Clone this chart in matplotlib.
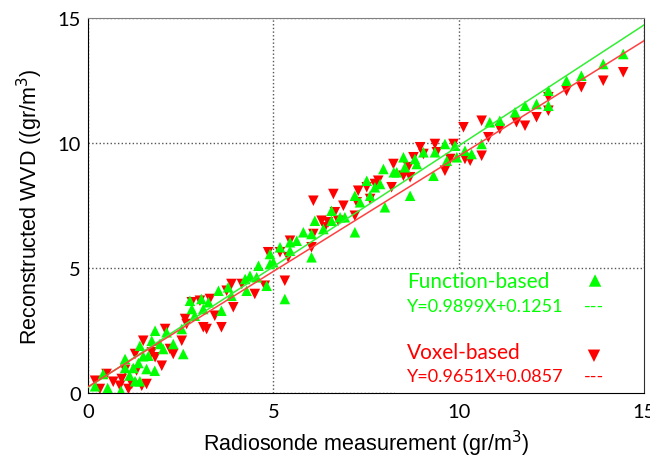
import matplotlib.pyplot as plt
from matplotlib.patches import Rectangle

# Function-based reconstruction (green, up-triangles)
func_x = [0.19, 0.41, 0.53, 0.89, 1.0, 1.0, 1.12, 1.27, 1.4, 1.22, 1.36, 1.49, 1.63, 1.58,
          1.8, 1.4, 1.72, 1.81, 1.94, 2.03, 2.12, 2.3, 2.57,
          2.53, 2.75, 2.8, 2.88, 3.06, 3.11, 3.25, 3.52, 3.6, 3.78, 3.87, 4.24, 4.37, 4.28,
          4.55, 4.6, 4.82, 5.31, 5.0,
          4.91, 4.91, 5.18, 5.45, 5.45, 5.63, 6.03, 6.03, 5.81, 6.12, 6.35, 6.57, 6.57, 6.8,
          6.93, 7.2, 7.2, 7.34, 7.74, 7.88,
          7.52, 7.61, 8.01, 7.97, 8.25, 8.33, 8.51, 8.55, 8.69, 8.82, 8.87, 9.05, 9.32, 9.36,
          9.68, 9.95, 10.35,
          9.63, 9.9, 10.17, 10.62, 10.84, 11.11, 11.52, 11.79,
          12.1, 12.42, 12.42, 12.91, 13.31, 13.9, 14.44]
func_y = [0.27, 0.76, 0.20, 0.09, 1.36, 1.0, 0.7, 0.47, 0.47, 1.0, 1.2, 1.47, 1.49, 0.96,
          0.89, 1.89, 2.09, 2.49, 1.96, 1.76, 2.43, 1.96, 1.56,
          2.56, 3.69, 3.36, 3.09, 3.76, 3.36, 3.63, 4.09, 3.29, 4.23, 3.89, 4.56, 4.69, 4.09,
          4.63, 5.09, 4.29, 3.76, 5.23,
          5.56, 5.16, 5.83, 6.03, 5.69, 6.09, 6.36, 5.43, 6.43, 6.89, 6.56, 7.29, 6.89, 7.03,
          7.03, 7.89, 6.43, 7.63, 8.23, 8.36,
          8.49, 7.89, 7.43, 8.96, 8.83, 8.83, 9.43, 9.03, 7.89, 9.36, 9.16, 9.63, 8.69, 9.63,
          9.29, 9.43, 9.56,
          9.96, 9.89, 9.69, 9.96, 10.83, 10.89, 11.23, 11.49,
          11.56, 12.09, 11.49, 12.49, 12.69, 13.16, 13.56]

# Voxel-based reconstruction (red, down-triangles)
vox_x = [0.19, 0.32, 0.5, 0.68, 0.86, 1.09, 1.18, 0.91, 1.0, 1.31, 1.45, 1.58, 1.27, 1.49,
         1.72, 1.81, 1.99, 2.21, 2.3, 2.08, 2.53,
         2.62, 2.66, 2.8, 3.02, 3.11, 3.2, 3.29, 3.42, 3.6, 3.74, 3.87, 3.92, 4.15, 4.5, 4.77,
         5.31,
         4.86, 5.18, 5.4, 5.45, 6.03, 6.08, 6.08, 6.3, 6.39, 6.48, 6.62, 6.66, 6.75, 6.89, 7.2,
         7.25,
         7.29, 7.52, 7.61, 7.74, 7.83, 8.19, 8.24, 8.51, 8.64, 8.69, 8.78, 8.96, 9.05, 9.36,
         9.41, 9.63, 9.77, 9.86, 10.13, 10.17, 10.31,
         10.62, 10.62, 10.8, 11.11, 11.56, 11.79, 12.1,
         12.42, 12.42, 12.91, 13.31, 13.9, 14.44]
vox_y = [0.49, 0.16, 0.76, 0.45, 0.29, 0.16, 0.36, 0.56, 0.93, 0.9, 0.29, 0.36, 1.56, 2.09,
         1.63, 1.43, 1.09, 1.76, 1.56, 2.56, 2.09,
         2.96, 2.76, 3.63, 3.69, 2.63, 2.56, 3.76, 3.09, 2.63, 4.09, 4.36, 3.43, 4.36, 3.96, 4.29,
         4.49,
         5.63, 5.63, 5.43, 6.09, 5.83, 6.36, 7.69, 6.89, 6.63, 6.83, 7.96, 7.23, 6.89, 7.49, 7.09,
         7.63,
         8.09, 8.23, 7.76, 8.36, 8.49, 8.23, 9.16, 8.69, 9.03, 8.63, 9.43, 9.83, 9.56, 9.96,
         9.63, 8.89, 9.36, 9.96, 10.63, 9.36, 9.29,
         9.49, 10.89, 10.23, 10.56, 10.83, 10.69, 11.03,
         11.83, 11.29, 12.09, 12.23, 12.49, 12.83]

# fit lines as drawn in the figure
fit_x = [0, 15]
func_fit = [0.22, 14.72]
vox_fit = [0.25, 14.09]

func_label = "Function-based"
vox_label = "Voxel-based"
func_eq = "Y=0.9899X+0.1251"
vox_eq = "Y=0.9651X+0.0857"

GREEN = '#00ff00'
RED = '#ff0000'

fig = plt.figure(figsize=(6.5, 4.6), dpi=100)
ax = fig.add_axes([88 / 650, 1 - 394 / 460, (644 - 88) / 650, (394 - 19) / 460])

ax.scatter(vox_x, vox_y, marker='v', s=58, color=RED, edgecolors='none', zorder=3)
ax.scatter(func_x, func_y, marker='^', s=58, color=GREEN, edgecolors='none', zorder=3)
ax.plot(fit_x, func_fit, color='#33ee33', lw=1.1, zorder=4)
ax.plot(fit_x, vox_fit, color='#ff4040', lw=1.1, zorder=4)

ax.set_xlim(0, 15)
ax.set_ylim(0, 15)
ax.set_xticks([0, 5, 10, 15])
ax.set_yticks([0, 5, 10, 15])
ax.tick_params(length=0, labelsize=14.5, colors='black')
ax.tick_params(axis='y', pad=5)
ax.tick_params(axis='x', pad=7)
for lbl in ax.get_xticklabels() + ax.get_yticklabels():
    lbl.set_family('Lato')
ax.grid(True, linestyle=':', color='#555555', linewidth=1.0, zorder=1)
ax.set_axisbelow(True)

ax.spines['left'].set_color('black')
ax.spines['bottom'].set_color('black')
ax.spines['top'].set_color('#808080')
ax.spines['right'].set_color('#303030')

ax.set_xlabel("Radiosonde measurement (gr/m$^3$)", fontsize=15.5,
              family='Liberation Sans', labelpad=6)
ax.set_ylabel("Reconstructed WVD ((gr/m$^3$)", fontsize=15.5,
              family='Liberation Sans', labelpad=9)

# white box behind the legend text hides the gridlines there
ax.add_patch(Rectangle((8.28, 0), 15 - 8.28, 4.92, facecolor='white',
                       edgecolor='none', zorder=1.5))

# in-plot legend text
ax.text(8.6, 4.5, func_label, color=GREEN, fontsize=15, family='Lato', va='center', zorder=5)
ax.text(8.6, 3.47, func_eq, color=GREEN, fontsize=13, family='Lato', va='center', zorder=5)
ax.scatter([13.68], [4.5], marker='^', s=80, color=GREEN, edgecolors='none', zorder=5)
ax.text(13.65, 3.47, '---', color=GREEN, fontsize=13, family='Lato', va='center',
        ha='center', zorder=5)

ax.text(8.6, 1.63, vox_label, color=RED, fontsize=15, family='Lato', va='center', zorder=5)
ax.text(8.6, 0.67, vox_eq, color=RED, fontsize=13, family='Lato', va='center', zorder=5)
ax.scatter([13.65], [1.49], marker='v', s=80, color=RED, edgecolors='none', zorder=5)
ax.text(13.65, 0.67, '---', color=RED, fontsize=13, family='Lato', va='center',
        ha='center', zorder=5)

fig.savefig('out.png', dpi=100)
